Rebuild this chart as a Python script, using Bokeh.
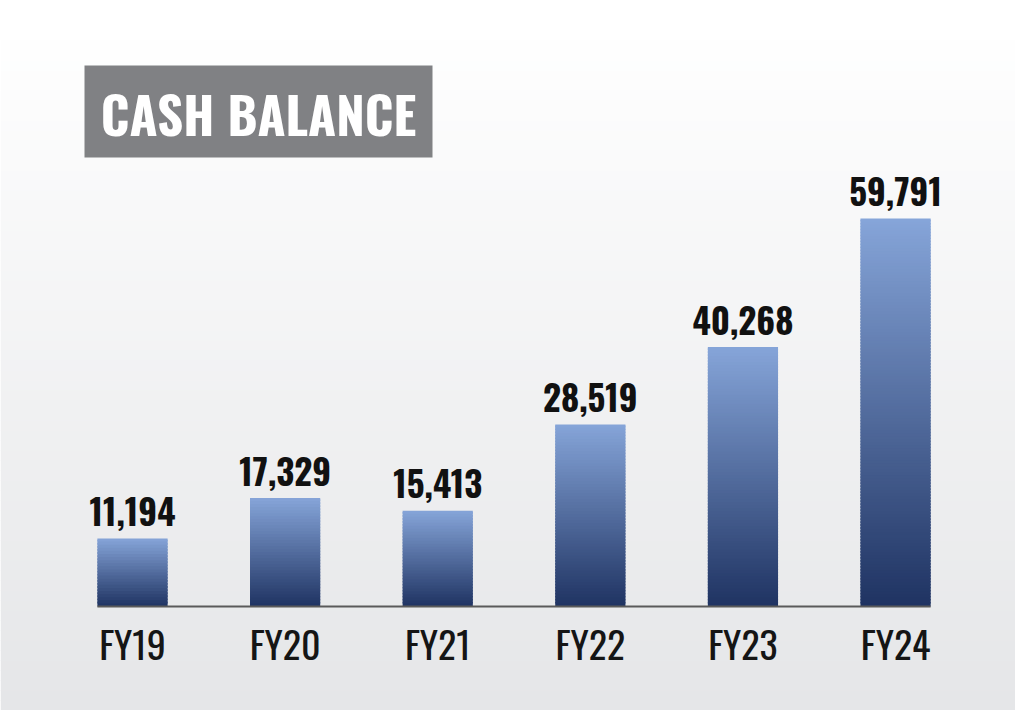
from bokeh.plotting import figure
from bokeh.models import Range1d, ColumnDataSource
from bokeh.core.properties import value
from bokeh.embed import file_html
from bokeh.resources import INLINE

# ---- data ----
categories = ["FY19", "FY20", "FY21", "FY22", "FY23", "FY24"]
cash_values = [11194, 17329, 15413, 28519, 40268, 59791]
value_labels = ["11,194", "17,329", "15,413", "28,519", "40,268", "59,791"]
title_text = "CASH BALANCE"

# ---- style ----
W, H = 1015, 710
BAR_TOP_COLOR = (134, 165, 217)
BAR_BOTTOM_COLOR = (31, 51, 98)
BG_TOP = (255, 255, 255)
BG_BOTTOM = (229, 230, 232)
COND_FONT = "Oswald"
AXIS_FLOOR = 866
STRIP_UNITS = 450
BAR_WIDTH = 0.46


def lerp(c1, c2, t):
    t = min(max(t, 0.0), 1.0)
    return "#%02x%02x%02x" % tuple(int(round(a + (b - a) * t)) for a, b in zip(c1, c2))


p = figure(width=W, height=H, output_backend="svg", toolbar_location=None,
           x_range=Range1d(-0.865, 5.786), y_range=Range1d(-14928, 92893),
           min_border=0, min_border_left=0, min_border_right=0,
           min_border_top=0, min_border_bottom=0)
p.axis.visible = False
p.grid.visible = False
p.outline_line_color = None
p.background_fill_color = None
p.border_fill_color = "#ffffff"
p.extra_x_ranges = {"px": Range1d(0, W)}
p.extra_y_ranges = {"px": Range1d(H, 0)}

# background gradient
n_bg = 71
bg_l, bg_r, bg_t, bg_b, bg_c = [], [], [], [], []
for i in range(n_bg):
    y0 = i * H / n_bg
    y1 = (i + 1) * H / n_bg + 0.6
    bg_l.append(0); bg_r.append(W); bg_t.append(y0); bg_b.append(y1)
    bg_c.append(lerp(BG_TOP, BG_BOTTOM, (y0 - 20) / (H - 30)))
p.quad(left=bg_l, right=bg_r, top=bg_t, bottom=bg_b, fill_color=bg_c,
       line_color=None, x_range_name="px", y_range_name="px")

# bars as gradient strips
xs, bots, tops, cols = [], [], [], []
for i, v in enumerate(cash_values):
    span = v - AXIS_FLOOR
    n = max(8, int(span / STRIP_UNITS))
    for k in range(n):
        b = AXIS_FLOOR + span * k / n
        t = AXIS_FLOOR + span * (k + 1) / n
        if k < n - 1:
            t += span / n * 0.6
        xs.append(i); bots.append(b); tops.append(t)
        cols.append(lerp(BAR_BOTTOM_COLOR, BAR_TOP_COLOR, (k + 0.5) / n))
p.vbar(x=xs, bottom=bots, top=tops, width=BAR_WIDTH, fill_color=cols, line_color=None)

# baseline
p.segment(x0=[-BAR_WIDTH / 2], x1=[len(categories) - 1 + BAR_WIDTH / 2],
          y0=[AXIS_FLOOR], y1=[AXIS_FLOOR], line_color="#5a5a5a", line_width=2)

# value labels
src = ColumnDataSource(dict(x=list(range(len(categories))), y=cash_values,
                            lab=value_labels, cat=categories, cy=[642] * len(categories)))
p.text(x="x", y="y", text="lab", source=src, text_align="center",
       text_baseline="middle", y_offset=-27, text_font=value(COND_FONT),
       text_font_size="35px", text_font_style="bold", text_color="#111111")

# category labels
p.text(x="x", y="cy", text="cat", source=src, y_range_name="px",
       text_align="center", text_baseline="middle", text_font=value(COND_FONT),
       text_font_size="38px", text_color="#151515")

# title box
p.quad(left=[84], right=[432], top=[65], bottom=[157], fill_color="#808184",
       line_color=None, x_range_name="px", y_range_name="px")
p.text(x=[258], y=[112], text=[title_text], x_range_name="px", y_range_name="px",
       text_align="center", text_baseline="middle", text_font=value(COND_FONT),
       text_font_size="51px", text_font_style="bold", text_color="#ffffff")

open("out.html", "w").write(file_html(p, INLINE))
